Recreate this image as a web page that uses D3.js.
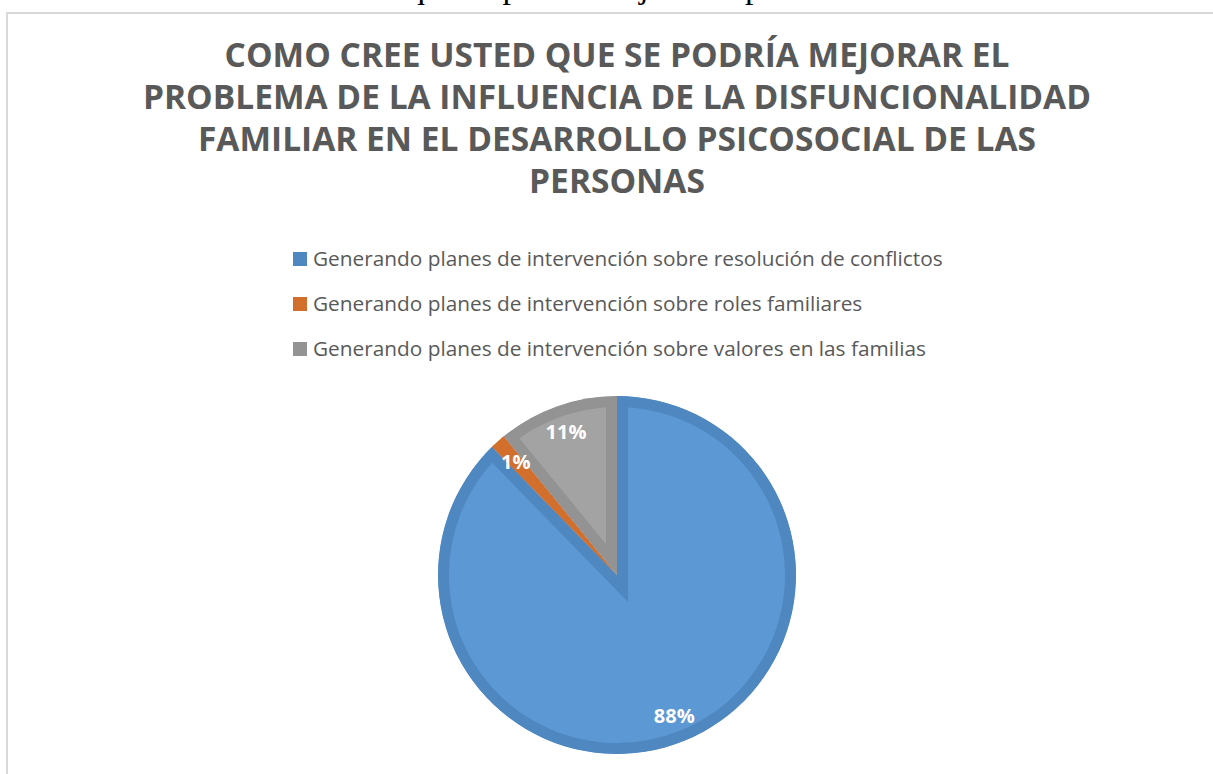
<!DOCTYPE html>
<html>
<head>
<meta charset="utf-8">
<script src="https://cdn.jsdelivr.net/npm/d3@7"></script>
<style>
  body { margin: 0; background: #fff; }
  svg { display: block; }
</style>
</head>
<body>
<div id="chart"></div>
<script>
// chart data
var categories = [
    "Generando planes de intervención sobre resolución de conflictos",
    "Generando planes de intervención sobre roles familiares",
    "Generando planes de intervención sobre valores en las familias"
];
var values = [87.7, 1.4, 10.9];
var titleLines = [
    "COMO CREE USTED QUE SE PODRÍA MEJORAR EL",
    "PROBLEMA DE LA INFLUENCIA DE LA DISFUNCIONALIDAD",
    "FAMILIAR EN EL DESARROLLO PSICOSOCIAL DE LAS",
    "PERSONAS"
];
var caption = "Gráfico 11: Como cree usted que se podría mejorar el problema de la familia";

// colours: slice fill and its darker edge
var fills = ["#5b98d4", "#e57832", "#a3a3a3"];
var edges = ["#4f88c0", "#d36f2c", "#939393"];

var width = 1213, height = 774;
var cx = 617, cy = 575, radius = 179, edgeW = 11;

var svg = d3.select("#chart")
    .append("svg")
    .attr("width", width)
    .attr("height", height);

// caption of the document, cut off at the top of the page
svg.append("text")
    .attr("x", 8)
    .attr("y", -2)
    .attr("font-family", "Liberation Serif, Times New Roman, serif")
    .attr("font-size", 34)
    .attr("fill", "#000")
    .text(caption);

// chart area border
svg.append("rect")
    .attr("x", 7).attr("y", 13)
    .attr("width", 1230).attr("height", 790)
    .attr("fill", "none")
    .attr("stroke", "#d9d9d9")
    .attr("stroke-width", 2);

// title
svg.append("g")
    .selectAll("text")
    .data(titleLines)
    .enter().append("text")
    .attr("x", cx)
    .attr("y", function(d, i) { return 67 + i * 42; })
    .attr("text-anchor", "middle")
    .attr("font-family", "Open Sans, sans-serif")
    .attr("font-weight", "bold")
    .attr("font-size", 33.5)
    .attr("fill", "#595959")
    .text(function(d) { return d; });

// legend
var legend = svg.append("g")
    .selectAll("g")
    .data(categories)
    .enter().append("g")
    .attr("transform", function(d, i) { return "translate(293," + (259 + i * 45) + ")"; });

legend.append("rect")
    .attr("x", 0).attr("y", -7)
    .attr("width", 14).attr("height", 14)
    .attr("fill", function(d, i) { return edges[i]; });

legend.append("text")
    .attr("x", 20)
    .attr("y", 7)
    .attr("font-family", "Open Sans, sans-serif")
    .attr("font-size", 20.8)
    .attr("fill", "#595959")
    .text(function(d) { return d; });

// pie
var pie = d3.pie().sort(null)(values);
var arc = d3.arc().innerRadius(0).outerRadius(radius);
var labelArc = d3.arc().innerRadius(152).outerRadius(152);

var g = svg.append("g").attr("transform", "translate(" + cx + "," + cy + ")");
var defs = svg.append("defs");

defs.selectAll("clipPath")
    .data(pie)
    .enter().append("clipPath")
    .attr("id", function(d, i) { return "slice" + i; })
    .append("path")
    .attr("d", arc);

// stroke twice the edge width, clipped to the slice -> inner edge band
g.selectAll("path.slice")
    .data(pie)
    .enter().append("path")
    .attr("class", "slice")
    .attr("d", arc)
    .attr("clip-path", function(d, i) { return "url(#slice" + i + ")"; })
    .attr("fill", function(d, i) { return fills[i]; })
    .attr("stroke", function(d, i) { return edges[i]; })
    .attr("stroke-width", edgeW * 2)
    .attr("stroke-linejoin", "miter")
    .attr("stroke-miterlimit", 10);

g.selectAll("text")
    .data(pie)
    .enter().append("text")
    .attr("transform", function(d) { return "translate(" + labelArc.centroid(d) + ")"; })
    .attr("text-anchor", "middle")
    .attr("dy", "0.36em")
    .attr("font-family", "Open Sans, sans-serif")
    .attr("font-weight", "bold")
    .attr("font-size", 20)
    .attr("fill", "#fff")
    .text(function(d) { return Math.round(d.value) + "%"; });
</script>
</body>
</html>
